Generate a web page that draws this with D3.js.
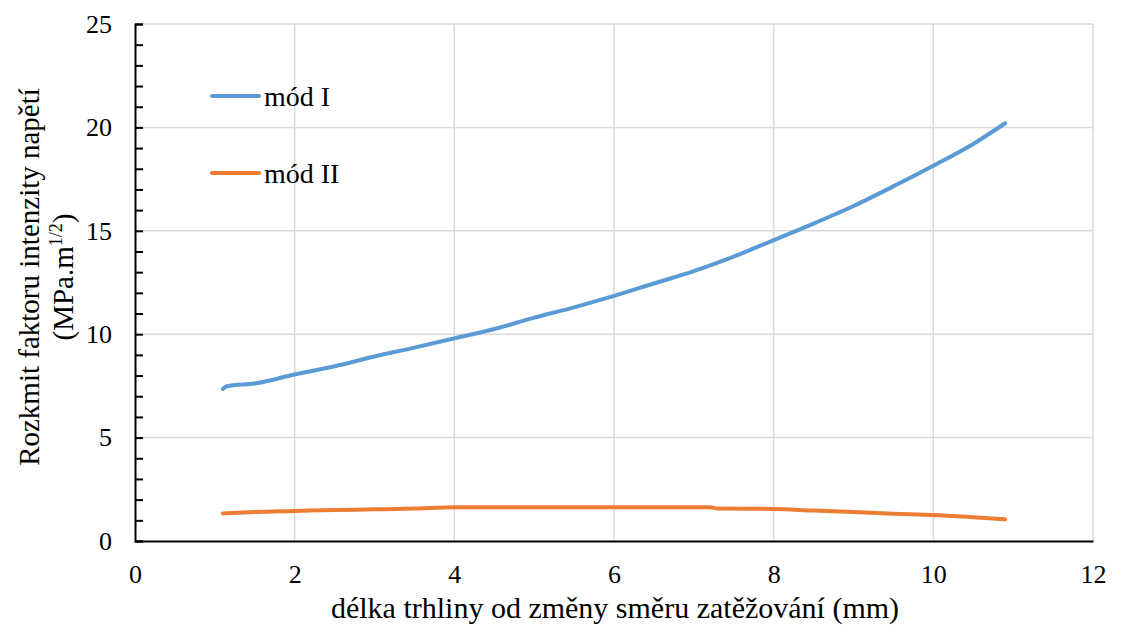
<!DOCTYPE html>
<html>
<head>
<meta charset="utf-8">
<script src="https://cdn.jsdelivr.net/npm/d3@7"></script>
<style>
  body { margin: 0; background: #fff; }
  svg text { font-family: 'Liberation Serif', 'DejaVu Serif', 'Times New Roman', serif; fill: #000; }
</style>
</head>
<body>
<svg width="1121" height="633"></svg>
<script>
// délka trhliny (mm)
const crackLen = [1.1, 1.15, 1.5, 2, 2.5, 3, 3.5, 4, 4.5, 5, 5.5, 6, 6.5, 7, 7.5, 8, 8.5, 9, 9.5, 10, 10.5, 10.9];
const modI = [7.35, 7.48, 7.62, 8.05, 8.45, 8.92, 9.35, 9.8, 10.25, 10.8, 11.3, 11.85, 12.45, 13.05, 13.75, 14.55, 15.35, 16.2, 17.15, 18.15, 19.2, 20.2];

const crackLen2 = [1.1, 1.5, 2, 2.5, 3, 3.5, 4, 5, 6, 7, 7.2, 7.3, 8, 8.5, 9, 9.5, 10, 10.5, 10.9];
const modII = [1.33, 1.4, 1.45, 1.5, 1.53, 1.57, 1.63, 1.63, 1.63, 1.63, 1.63, 1.57, 1.55, 1.47, 1.4, 1.32, 1.26, 1.15, 1.05];

const xTicks = [0, 2, 4, 6, 8, 10, 12];
const yTicks = [0, 5, 10, 15, 20, 25];

const font = "'Liberation Serif', 'DejaVu Serif', 'Times New Roman', serif";
const svg = d3.select('svg').attr('font-family', font);

const x = d3.scaleLinear().domain([0, 12]).range([135, 1093]);
const y = d3.scaleLinear().domain([0, 25]).range([541, 24]);

// grid
svg.append('g').selectAll('line').data(xTicks.slice(1)).enter()
  .append('line')
  .attr('x1', d => x(d)).attr('x2', d => x(d))
  .attr('y1', y(0)).attr('y2', y(25))
  .attr('stroke', '#d9d9d9').attr('stroke-width', 1.5);

svg.append('g').selectAll('line').data(yTicks.slice(1)).enter()
  .append('line')
  .attr('x1', x(0)).attr('x2', x(12))
  .attr('y1', d => y(d)).attr('y2', d => y(d))
  .attr('stroke', '#d9d9d9').attr('stroke-width', 1.5);

// y axis with inside minor ticks
const yAxis = d3.axisLeft(y)
  .tickValues(d3.range(0, 26, 1))
  .tickSize(-8)
  .tickPadding(23)
  .tickFormat(d => d % 5 === 0 ? d : '');

const yG = svg.append('g').attr('transform', `translate(${x(0)},0)`).call(yAxis)
  .attr('font-family', font).attr('font-size', 26);
yG.select('.domain').attr('stroke', '#000').attr('stroke-width', 2);
yG.selectAll('.tick line').attr('stroke', '#000').attr('stroke-width', 2);

// x axis
const xAxis = d3.axisBottom(x).tickValues(xTicks).tickSize(0).tickPadding(24);
const xG = svg.append('g').attr('transform', `translate(0,${y(0)})`).call(xAxis)
  .attr('font-family', font).attr('font-size', 26);
xG.select('.domain').attr('stroke', '#000').attr('stroke-width', 2);

// lines
const line = d3.line()
  .x(d => x(d[0]))
  .y(d => y(d[1]))
  .curve(d3.curveMonotoneX);

svg.append('path')
  .attr('fill', 'none')
  .attr('stroke', '#5b9bd5')
  .attr('stroke-width', 4)
  .attr('stroke-linecap', 'round')
  .attr('d', line(d3.zip(crackLen, modI)));

svg.append('path')
  .attr('fill', 'none')
  .attr('stroke', '#ed7d31')
  .attr('stroke-width', 4)
  .attr('stroke-linecap', 'round')
  .attr('d', line(d3.zip(crackLen2, modII)));

// legend
const legend = [{ name: 'mód I', color: '#5b9bd5', y: 96 }, { name: 'mód II', color: '#ed7d31', y: 173 }];
const lg = svg.append('g').selectAll('g').data(legend).enter().append('g');
lg.append('line')
  .attr('x1', 212).attr('x2', 259)
  .attr('y1', d => d.y).attr('y2', d => d.y)
  .attr('stroke', d => d.color).attr('stroke-width', 4).attr('stroke-linecap', 'round');
lg.append('text')
  .attr('x', 264).attr('y', d => d.y + 10)
  .attr('font-size', 28)
  .text(d => d.name);

// axis titles
svg.append('text')
  .attr('x', 615).attr('y', 618)
  .attr('text-anchor', 'middle')
  .attr('font-size', 30)
  .text('délka trhliny od změny směru zatěžování (mm)');

const yTitle = svg.append('text')
  .attr('transform', 'translate(39,277) rotate(-90)')
  .attr('text-anchor', 'middle')
  .attr('font-size', 29);
yTitle.append('tspan').attr('x', 0).attr('y', 0).text('Rozkmit faktoru intenzity napětí');
const t2 = yTitle.append('tspan').attr('x', 0).attr('y', 34);
t2.append('tspan').text('(MPa.m');
t2.append('tspan').attr('dy', -11).attr('font-size', 18).text('1/2');
t2.append('tspan').attr('dy', 11).text(')');
</script>
</body>
</html>
